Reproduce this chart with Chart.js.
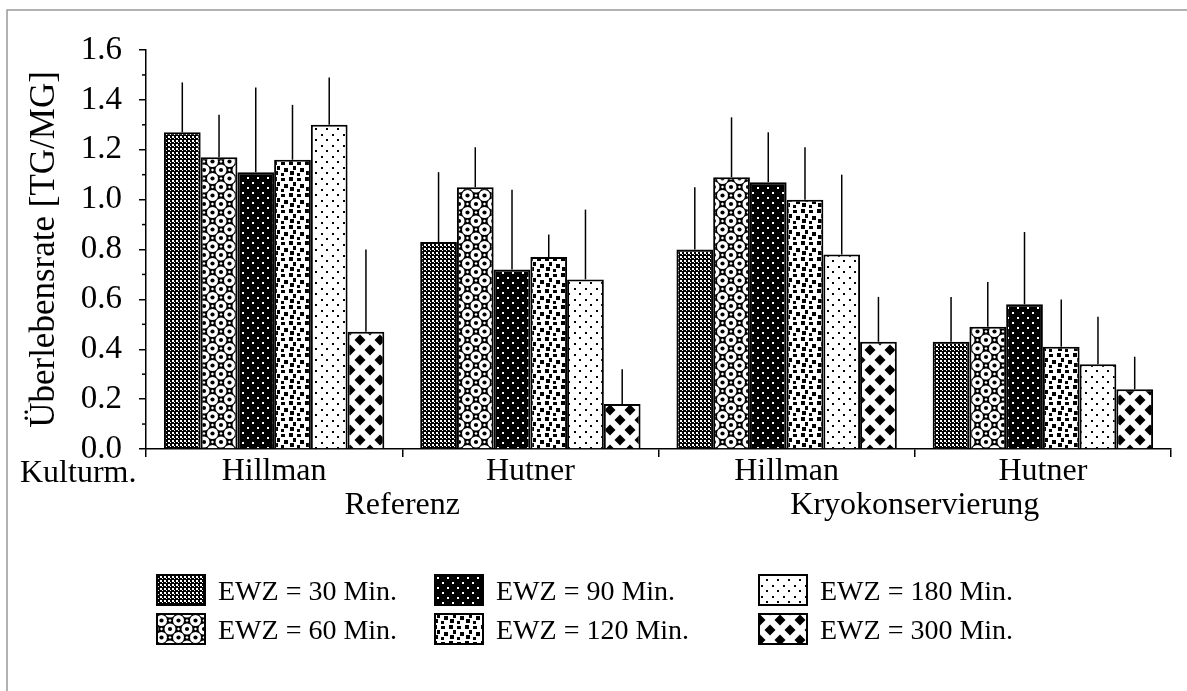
<!DOCTYPE html>
<html>
<head>
<meta charset="utf-8">
<script src="https://cdn.jsdelivr.net/npm/chart.js@4/dist/chart.umd.min.js"></script>
<style>
  html, body { margin: 0; padding: 0; background: #fff; }
  #wrap { width: 1187px; height: 691px; position: relative; }
</style>
</head>
<body>
<div id="wrap"><canvas id="chart" width="1187" height="691"></canvas></div>
<script>
// Kulturmedium (x-Achse) und Hauptgruppen darunter
const groups = ['Hillman', 'Hutner', 'Hillman', 'Hutner'];
const mainGroups = ['Referenz', 'Kryokonservierung'];
const seriesNames = ['EWZ = 30 Min.', 'EWZ = 60 Min.', 'EWZ = 90 Min.', 'EWZ = 120 Min.', 'EWZ = 180 Min.', 'EWZ = 300 Min.'];

// Mittelwerte pro EWZ
const ewz30 = [1.27, 0.83, 0.80, 0.43];
const ewz60 = [1.17, 1.05, 1.09, 0.49];
const ewz90 = [1.11, 0.72, 1.07, 0.58];
const ewz120 = [1.16, 0.77, 1.00, 0.41];
const ewz180 = [1.30, 0.68, 0.78, 0.34];
const ewz300 = [0.47, 0.18, 0.43, 0.24];

// Standardabweichung (nur nach oben)
const err30 = [0.20, 0.28, 0.25, 0.18];
const err60 = [0.17, 0.16, 0.24, 0.18];
const err90 = [0.34, 0.32, 0.20, 0.29];
const err120 = [0.22, 0.09, 0.21, 0.19];
const err180 = [0.19, 0.28, 0.32, 0.19];
const err300 = [0.33, 0.14, 0.18, 0.13];

const yTicks = [0, 0.2, 0.4, 0.6, 0.8, 1.0, 1.2, 1.4, 1.6];

const SERIF = '"Liberation Serif", "Times New Roman", serif';
const canvas = document.getElementById('chart');
const ctx = canvas.getContext('2d');

// Kleine Kachel -> Muster
function tile(w, h, draw) {
    const c = document.createElement('canvas');
    c.width = w; c.height = h;
    const g = c.getContext('2d');
    draw(g);
    return ctx.createPattern(c, 'repeat');
}

function diamond(g, x, y, r) {
    g.beginPath();
    g.moveTo(x, y - r); g.lineTo(x + r, y); g.lineTo(x, y + r); g.lineTo(x - r, y);
    g.closePath(); g.fill();
}

const patterns = [
    // 30: feines Schachbrett, dunkel
    tile(4, 4, g => {
        g.fillStyle = '#000'; g.fillRect(0, 0, 4, 4);
        g.fillStyle = '#fff'; g.fillRect(0, 0, 2, 2); g.fillRect(2, 2, 1, 1);
    }),
    // 60: Ringe mit Punkt zwischen diagonalen Linien
    tile(17, 17, g => {
        g.fillStyle = '#000'; g.fillRect(0, 0, 17, 17);
        [[0, 0], [17, 0], [0, 17], [17, 17], [8.5, 8.5]].forEach(([x, y]) => {
            g.fillStyle = '#fff'; g.beginPath(); g.arc(x, y, 5.5, 0, Math.PI * 2); g.fill();
            g.fillStyle = '#000'; g.beginPath(); g.arc(x, y, 2.1, 0, Math.PI * 2); g.fill();
        });
        g.fillStyle = '#fff';
        [[8.5, 0], [0, 8.5], [17, 8.5], [8.5, 17]].forEach(([x, y]) => diamond(g, x, y, 1.6));
    }),
    // 90: schwarz mit weissen Punkten
    tile(10, 10, g => {
        g.fillStyle = '#000'; g.fillRect(0, 0, 10, 10);
        g.fillStyle = '#fff'; g.fillRect(2, 2, 2, 2); g.fillRect(7, 7, 2, 2);
    }),
    // 120: unregelmaessig versetzte Quadrate
    tile(16, 16, g => {
        g.fillStyle = '#fff'; g.fillRect(0, 0, 16, 16);
        g.fillStyle = '#000';
        g.fillRect(1, 1, 4, 4); g.fillRect(9, 2, 4, 3); g.fillRect(5, 6, 3, 4);
        g.fillRect(12, 8, 4, 4); g.fillRect(2, 11, 4, 4); g.fillRect(9, 13, 3, 3);
    }),
    // 180: weiss mit kleinen Punkten
    tile(11, 11, g => {
        g.fillStyle = '#fff'; g.fillRect(0, 0, 11, 11);
        g.fillStyle = '#000'; g.fillRect(2, 2, 2, 2); g.fillRect(7, 7, 2, 2);
    }),
    // 300: Rauten
    tile(20, 20, g => {
        g.fillStyle = '#fff'; g.fillRect(0, 0, 20, 20);
        g.fillStyle = '#000';
        [[0, 0], [20, 0], [0, 20], [20, 20], [10, 10]].forEach(([x, y]) => diamond(g, x, y, 5.5));
    })
];

const values = [ewz30, ewz60, ewz90, ewz120, ewz180, ewz300];
const errors = [err30, err60, err90, err120, err180, err300];

const datasets = seriesNames.map((name, i) => ({
    label: name,
    data: values[i],
    errors: errors[i],
    backgroundColor: patterns[i],
    borderColor: '#000',
    borderWidth: 2,
    categoryPercentage: 0.86,
    barPercentage: 1.0
}));

// Fehlerbalken: nur Strich nach oben
const errorBars = {
    id: 'errorBars',
    afterDatasetsDraw(chart) {
        const { ctx, scales: { y } } = chart;
        ctx.save();
        ctx.strokeStyle = '#000';
        ctx.lineWidth = 1.5;
        chart.data.datasets.forEach((ds, i) => {
            chart.getDatasetMeta(i).data.forEach((bar, j) => {
                const top = y.getPixelForValue(ds.data[j] + ds.errors[j]);
                ctx.beginPath();
                ctx.moveTo(bar.x, bar.y);
                ctx.lineTo(bar.x, top);
                ctx.stroke();
            });
        });
        ctx.restore();
    }
};

// Zwischenstriche, zweite Beschriftungszeile, Legende, Rahmen
const extras = {
    id: 'extras',
    afterDraw(chart) {
        const { ctx, scales: { x, y } } = chart;
        ctx.save();
        ctx.strokeStyle = '#000';
        ctx.lineWidth = 1.5;
        for (let k = 0; k < yTicks.length - 1; k++) {
            const py = y.getPixelForValue((yTicks[k] + yTicks[k + 1]) / 2);
            ctx.beginPath();
            ctx.moveTo(y.right - 4, py);
            ctx.lineTo(y.right, py);
            ctx.stroke();
        }

        ctx.fillStyle = '#000';
        ctx.font = '32px ' + SERIF;
        ctx.textBaseline = 'alphabetic';
        ctx.textAlign = 'left';
        ctx.fillText('Kulturm.', 20, 482);
        ctx.textAlign = 'center';
        mainGroups.forEach((name, k) => {
            const cx = (x.getPixelForValue(2 * k) + x.getPixelForValue(2 * k + 1)) / 2;
            ctx.fillText(name, cx, 514);
        });

        // Legende: 3 Spalten, 2 Zeilen
        const colX = [157, 435, 759];
        const rowY = [575, 614];
        ctx.font = '28px ' + SERIF;
        ctx.textAlign = 'left';
        chart.data.datasets.forEach((ds, i) => {
            const cx = colX[Math.floor(i / 2)];
            const cy = rowY[i % 2];
            ctx.fillStyle = ds.backgroundColor;
            ctx.fillRect(cx, cy, 48, 30);
            ctx.strokeStyle = '#000';
            ctx.lineWidth = 2;
            ctx.strokeRect(cx, cy, 48, 30);
            ctx.fillStyle = '#000';
            ctx.fillText(ds.label, cx + 61, cy + 25);
        });

        // Rahmen des Scans (oben und links)
        ctx.strokeStyle = '#999';
        ctx.lineWidth = 1.5;
        ctx.beginPath();
        ctx.moveTo(7, 691);
        ctx.lineTo(7, 10);
        ctx.lineTo(1187, 10);
        ctx.stroke();
        ctx.restore();
    }
};

new Chart(canvas, {
    type: 'bar',
    data: { labels: groups, datasets: datasets },
    options: {
        responsive: false,
        animation: false,
        layout: { padding: { top: 50, right: 16, left: 0, bottom: 0 } },
        plugins: { legend: { display: false }, tooltip: { enabled: false } },
        scales: {
            x: {
                grid: { offset: true, drawOnChartArea: false, tickLength: 8, color: '#000', lineWidth: 1.5 },
                border: { color: '#000', width: 1.5 },
                ticks: { color: '#000', font: { family: SERIF, size: 32, lineHeight: 1.2 }, padding: -5, maxRotation: 0 },
                afterFit(s) { s.height = 242; }
            },
            y: {
                min: 0,
                max: 1.6,
                afterBuildTicks(s) { s.ticks = yTicks.map(v => ({ value: v })); },
                grid: { drawOnChartArea: false, tickLength: 7, color: '#000', lineWidth: 1.5 },
                border: { color: '#000', width: 1.5 },
                ticks: { color: '#000', font: { family: SERIF, size: 33 }, padding: 17, callback: v => v.toFixed(1) },
                title: {
                    display: true,
                    text: 'Überlebensrate [TG/MG]',
                    color: '#000',
                    font: { family: SERIF, size: 35, lineHeight: 1.2 },
                    padding: { top: 24, bottom: 0 }
                },
                afterFit(s) { s.width = 146; }
            }
        }
    },
    plugins: [errorBars, extras]
});
</script>
</body>
</html>
